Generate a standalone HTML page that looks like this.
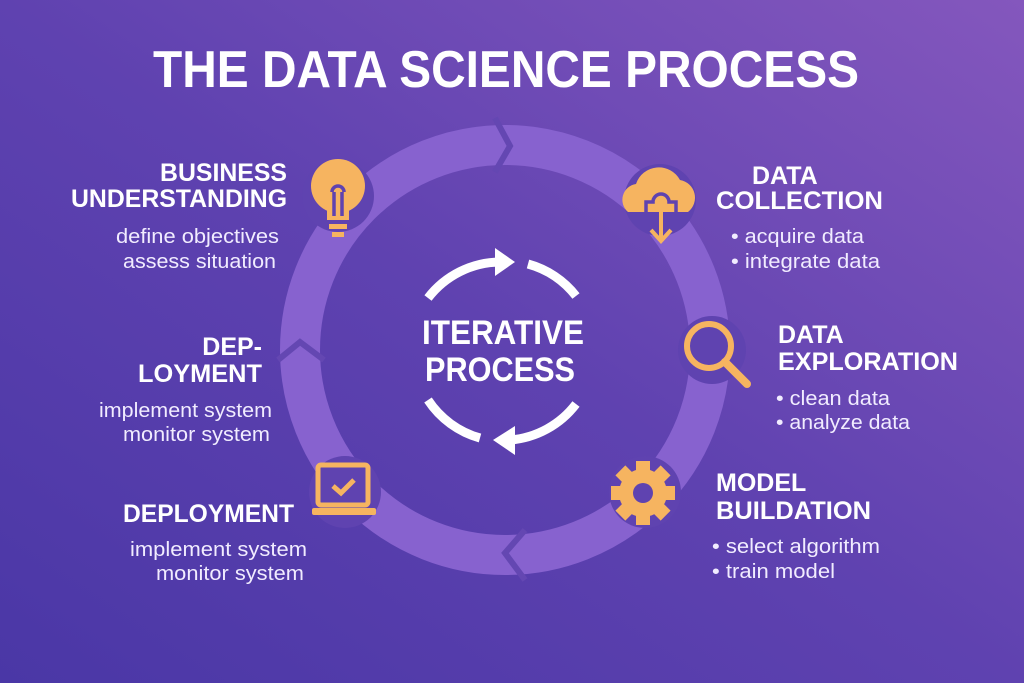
<!DOCTYPE html>
<html><head><meta charset="utf-8"><style>
html,body{margin:0;padding:0;width:1024px;height:683px;overflow:hidden}
svg{display:block}
text{font-family:"Liberation Sans",sans-serif;fill:#fff}
.h{font-weight:bold;font-size:25px}
.s{font-size:20px;fill:#f1ecff}
</style></head><body>
<svg width="1024" height="683" viewBox="0 0 1024 683">
<defs>
<linearGradient id="bg" x1="0" y1="1" x2="1" y2="0">
<stop offset="0" stop-color="#4a37a6"/>
<stop offset="0.5" stop-color="#5f42b0"/>
<stop offset="1" stop-color="#8457bd"/>
</linearGradient>
</defs>
<rect width="1024" height="683" fill="url(#bg)"/>
<text x="506" y="87" text-anchor="middle" font-weight="bold" font-size="52" textLength="706" lengthAdjust="spacingAndGlyphs">THE DATA SCIENCE PROCESS</text>

<circle cx="505" cy="350" r="205" fill="none" stroke="#8762cf" stroke-width="40"/>
<g fill="none" stroke="#6447b2" stroke-width="6">
<polyline points="495,118 510,146 495,172"/>
<polyline points="278,360 300,342 324,360"/>
<polyline points="525,530 505,553 525,580"/>
</g>
<g fill="#5f43b0">
<circle cx="338" cy="196" r="36"/>
<circle cx="660" cy="200" r="36"/>
<circle cx="712" cy="350" r="34"/>
<circle cx="645" cy="492" r="36"/>
<circle cx="345" cy="492" r="36"/>
</g>

<g fill="#f6b460" stroke="#f6b460">
<circle cx="338" cy="186" r="27" stroke="none"/>
<rect x="327" y="206" width="22" height="14" stroke="none"/>
<rect x="329" y="224" width="18" height="5" stroke="none"/>
<rect x="332" y="232" width="12" height="5" stroke="none"/>
<path d="M334 216v-24 M342 216v-24 M332 192a6 6 0 1 1 12 0" fill="none" stroke="#5f43b0" stroke-width="3.5"/>
<path d="M628 212a16 16 0 0 1 8-28a24 24 0 0 1 44-4a18 18 0 0 1 8 32z" stroke="none"/>
<path d="M646 212v-10h7a8 8 0 0 1 16 0h7v10" fill="none" stroke="#5f43b0" stroke-width="3.5"/>
<path d="M661 208v33 M651 230l10 11 10-11" fill="none" stroke-width="4"/>
<circle cx="709" cy="346" r="22" fill="none" stroke-width="6"/>
<path d="M725 362l22 22" stroke-width="8" stroke-linecap="round"/>
<g transform="translate(643,493)" stroke="none">
<rect x="-7" y="-32" width="14" height="64"/>
<rect x="-7" y="-32" width="14" height="64" transform="rotate(45)"/>
<rect x="-7" y="-32" width="14" height="64" transform="rotate(90)"/>
<rect x="-7" y="-32" width="14" height="64" transform="rotate(135)"/>
<circle r="24"/>
<circle r="10" fill="#5f43b0"/>
</g>
<rect x="318" y="465" width="50" height="40" rx="3" fill="none" stroke-width="5"/>
<rect x="312" y="508" width="64" height="7" rx="2" stroke="none"/>
<path d="M333 486l8 7 13-13" fill="none" stroke-width="5"/>
</g>

<g fill="none" stroke="#fff" stroke-width="9">
<path d="M428 298A92 92 0 0 1 500 262"/>
<path d="M528 264A92 92 0 0 1 576 296"/>
<path d="M576 404A92 92 0 0 1 510 440"/>
<path d="M480 438A92 92 0 0 1 428 400"/>
</g>
<g fill="#fff">
<polygon points="495,248 515,262 495,276"/>
<polygon points="515,426 493,440 515,455"/>
</g>
<text x="503" y="344" text-anchor="middle" font-weight="bold" font-size="34" textLength="162" lengthAdjust="spacingAndGlyphs">ITERATIVE</text>
<text x="500" y="381" text-anchor="middle" font-weight="bold" font-size="34" textLength="150" lengthAdjust="spacingAndGlyphs">PROCESS</text>

<text class="h" x="287" y="181" text-anchor="end" textLength="127" lengthAdjust="spacingAndGlyphs">BUSINESS</text>
<text class="h" x="287" y="207" text-anchor="end" textLength="216" lengthAdjust="spacingAndGlyphs">UNDERSTANDING</text>
<text class="s" x="279" y="243" text-anchor="end" textLength="163" lengthAdjust="spacingAndGlyphs">define objectives</text>
<text class="s" x="276" y="268" text-anchor="end" textLength="153" lengthAdjust="spacingAndGlyphs">assess situation</text>

<text class="h" x="262" y="355" text-anchor="end">DEP-</text>
<text class="h" x="262" y="382" text-anchor="end" textLength="124" lengthAdjust="spacingAndGlyphs">LOYMENT</text>
<text class="s" x="272" y="417" text-anchor="end" textLength="173" lengthAdjust="spacingAndGlyphs">implement system</text>
<text class="s" x="270" y="441" text-anchor="end" textLength="147" lengthAdjust="spacingAndGlyphs">monitor system</text>

<text class="h" x="123" y="522" textLength="171" lengthAdjust="spacingAndGlyphs">DEPLOYMENT</text>
<text class="s" x="130" y="556" textLength="177" lengthAdjust="spacingAndGlyphs">implement system</text>
<text class="s" x="156" y="580" textLength="148" lengthAdjust="spacingAndGlyphs">monitor system</text>

<text class="h" x="752" y="184">DATA</text>
<text class="h" x="716" y="209" textLength="167" lengthAdjust="spacingAndGlyphs">COLLECTION</text>
<text class="s" x="731" y="243" textLength="133" lengthAdjust="spacingAndGlyphs">• acquire data</text>
<text class="s" x="731" y="268" textLength="149" lengthAdjust="spacingAndGlyphs">• integrate data</text>

<text class="h" x="778" y="343">DATA</text>
<text class="h" x="778" y="370" textLength="180" lengthAdjust="spacingAndGlyphs">EXPLORATION</text>
<text class="s" x="776" y="405" textLength="114" lengthAdjust="spacingAndGlyphs">• clean data</text>
<text class="s" x="776" y="429" textLength="134" lengthAdjust="spacingAndGlyphs">• analyze data</text>

<text class="h" x="716" y="491">MODEL</text>
<text class="h" x="716" y="519" textLength="155" lengthAdjust="spacingAndGlyphs">BUILDATION</text>
<text class="s" x="712" y="553" textLength="168" lengthAdjust="spacingAndGlyphs">• select algorithm</text>
<text class="s" x="712" y="578" textLength="123" lengthAdjust="spacingAndGlyphs">• train model</text>
</svg>
</body></html>
